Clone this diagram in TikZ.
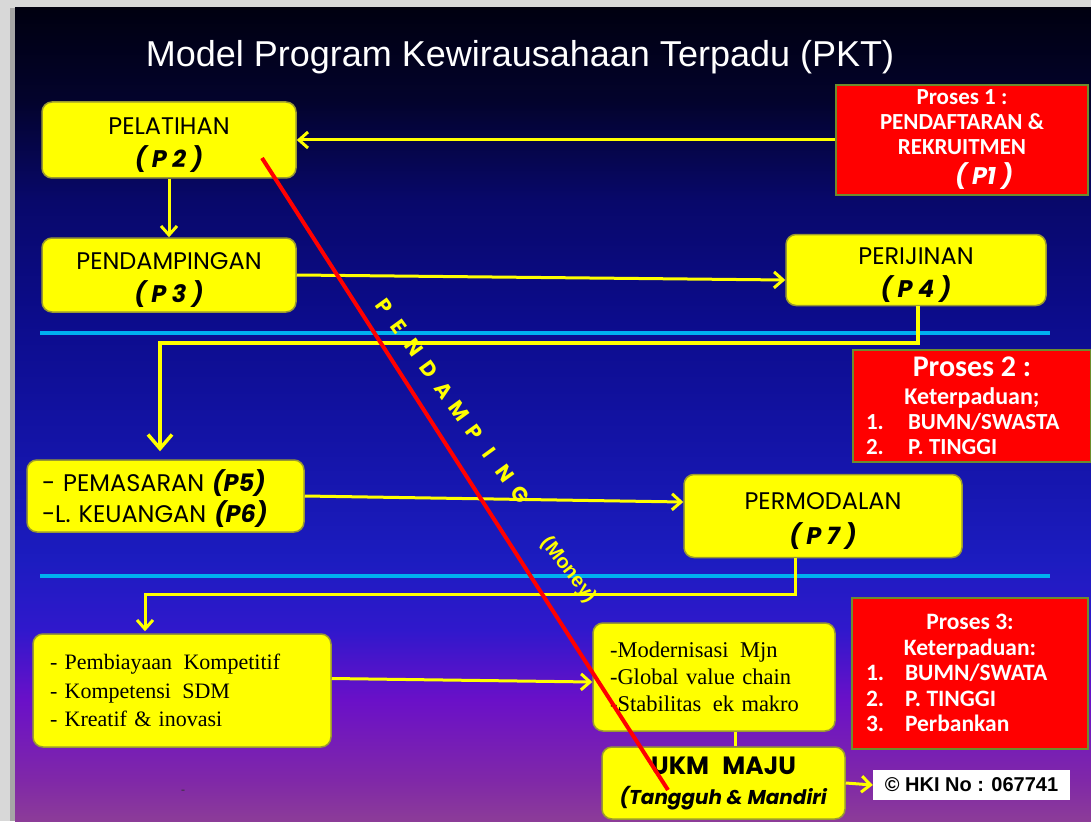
\documentclass[tikz,border=0pt]{standalone}
\usepackage{fontspec}
\setmainfont{Liberation Serif}
\newfontfamily\gothic{Poppins}
\newfontfamily\twcen{Carlito}
\newfontfamily\arial{Liberation Sans}
\usetikzlibrary{positioning, arrows.meta, calc}
\newcommand{\atas}{\rule{0pt}{27pt}}

\definecolor{kuning}{HTML}{FFFF00}
\definecolor{tepikuning}{HTML}{9A9A30}
\definecolor{merah}{HTML}{FF0000}
\definecolor{tepimerah}{HTML}{6E8C2C}
\definecolor{biru}{HTML}{00B0F0}
\definecolor{abu}{HTML}{D8D8D8}
\definecolor{bgA}{HTML}{000010}
\definecolor{bgB}{HTML}{03032C}
\definecolor{bgC}{HTML}{08086A}
\definecolor{bgD}{HTML}{0C0C8C}
\definecolor{bgE}{HTML}{1414A8}
\definecolor{bgF}{HTML}{1C1CC0}
\definecolor{bgG}{HTML}{3018CC}
\definecolor{bgH}{HTML}{6A10C8}
\definecolor{bgI}{HTML}{8028A8}
\definecolor{bgJ}{HTML}{8C3C98}
\pgfdeclareverticalshading{latar}{100bp}{color(0bp)=(bgJ); color(25bp)=(bgJ);
  color(27.52bp)=(bgI); color(32.44bp)=(bgH); color(36.75bp)=(bgG);
  color(41.05bp)=(bgF); color(47.82bp)=(bgE); color(55.81bp)=(bgD);
  color(63.19bp)=(bgC); color(69.34bp)=(bgB); color(75bp)=(bgA); color(100bp)=(bgA)}

\begin{document}
\begin{tikzpicture}[x=1pt, y=-1pt,
  kotak/.style={rounded corners=10pt, fill=kuning, draw=tepikuning, line width=1.5pt,
    align=center, text=black, inner sep=0pt, font=\gothic\fontsize{24}{33}\selectfont},
  proses/.style={fill=merah, draw=tepimerah, line width=2pt, text=white, align=center,
    inner sep=0pt, font=\twcen\bfseries\fontsize{23}{25}\selectfont},
  panah/.style={draw=kuning, line width=3pt, -{Straight Barb[length=9pt,width=16pt]}},
  garis/.style={draw=kuning, line width=3pt},
  pemisah/.style={draw=biru, line width=4pt}]

  % Latar belakang slide
  \fill[abu] (0,0) rectangle (1091,821);
  \fill[gray!70] (10,8) rectangle (15,821);
  \shade[shading=latar] (15,8) rectangle (1091,821);
  \useasboundingbox (0,0) rectangle (1091,821);

  % Garis pemisah biru
  \draw[pemisah] (40,333) -- (1050,333);
  \draw[pemisah] (40,576) -- (1050,576);

  % Judul
  \node[text=white, font=\arial\fontsize{36}{40}\selectfont] (judul) at (520,57)
    {Model Program Kewirausahaan Terpadu (PKT)};

  % Kotak kuning
  \node[kotak, minimum width=254pt, minimum height=76pt] (p2) at (169,140)
    {\atas PELATIHAN\\ \textbf{\textit{( P 2 )}}};
  \node[kotak, minimum width=254pt, minimum height=74pt] (p3) at (169,275)
    {\atas PENDAMPINGAN\\ \textbf{\textit{( P 3 )}}};
  \node[kotak, minimum width=260pt, minimum height=71pt] (p4) at (916,270)
    {\atas PERIJINAN\\ \textbf{\textit{( P 4 )}}};
  \node[kotak, align=left, text width=247pt, inner xsep=15pt, minimum height=72pt,
    font=\gothic\fontsize{24}{31}\selectfont] (p56) at (165.5,496)
    {\atas - PEMASARAN \textbf{\textit{(P5)}}\\-L. KEUANGAN \textbf{\textit{(P6)}}};
  \node[kotak, minimum width=278pt, minimum height=83pt, font=\gothic\fontsize{24}{35}\selectfont] (p7) at (823,516)
    {\atas PERMODALAN\\ \textbf{\textit{( P 7 )}}};
  \node[kotak, align=left, text width=264pt, inner xsep=17pt, minimum height=113pt,
    font=\rmfamily\fontsize{22}{28.5}\selectfont] (faktor) at (182,690.5)
    {- Pembiayaan\hspace{4pt} Kompetitif\\- Kompetensi\hspace{4pt} SDM\\- Kreatif \& inovasi};
  \node[kotak, align=left, text width=208pt, inner xsep=17pt, minimum height=108pt,
    font=\rmfamily\fontsize{22.5}{27}\selectfont] (modern) at (714,677)
    {-Modernisasi\hspace{4pt} Mjn\\-Global value chain\\-Stabilitas\hspace{4pt} ek makro};
  \node[kotak, minimum width=243pt, minimum height=72pt, font=\gothic\fontsize{20}{30}\selectfont] (ukm) at (723.5,783)
    {{\fontsize{25}{30}\selectfont\textbf{UKM\hspace{8pt} MAJU}}\\ \textbf{\textit{(Tangguh \& Mandiri}}};
  \node[fill=white, minimum width=197pt, minimum height=30pt, inner sep=0pt,
    font=\arial\bfseries\fontsize{20}{24}\selectfont] (hki) at (971.5,785) {© HKI No : 067741};

  % Kotak merah proses
  \node[proses, minimum width=252pt, minimum height=110pt] (pros1) at (962,140)
    {Proses 1 :\\ PENDAFTARAN \&\\ REKRUITMEN\\[5pt]
     \hspace*{44pt}{\gothic\itshape\fontsize{24}{25}\selectfont ( P1 )}};
  \node[proses, minimum width=238pt, minimum height=112pt] (pros2) at (972,406)
    {{\fontsize{30}{30}\selectfont Proses 2 :}\\[3pt] {\fontsize{24}{25}\selectfont Keterpaduan;}\\
     \makebox[212pt][l]{\makebox[42pt][l]{1.}BUMN/SWASTA}\\
     \makebox[212pt][l]{\makebox[42pt][l]{2.}P. TINGGI}};
  \node[proses, minimum width=236pt, minimum height=151pt,
    font=\twcen\bfseries\fontsize{23.5}{25.5}\selectfont] (pros3) at (970,673)
    {Proses 3:\\ Keterpaduan:\\
     \makebox[208pt][l]{\makebox[39pt][l]{1.}BUMN/SWATA}\\
     \makebox[208pt][l]{\makebox[39pt][l]{2.}P. TINGGI}\\
     \makebox[208pt][l]{\makebox[39pt][l]{3.}Perbankan}};

  % Panah penghubung
  \draw[panah] (pros1.west) -- (p2.east);
  \draw[panah] (p2.south) -- (p3.north);
  \draw[panah] (p3.east) -- ([yshift=-10pt]p4.west);
  \coordinate (b1) at (918,343);
  \coordinate (b2) at (160,343);
  \draw[panah, line width=3.5pt, -{Straight Barb[length=14pt,width=24pt]}, shorten >=8pt]
    ([xshift=2pt]p4.south) -- (b1) -- (b2) -- (b2 |- p56.north);
  \draw[panah] (p56.east) -- ([yshift=14pt]p7.west);
  \coordinate (b3) at (795,594);
  \coordinate (b4) at (145,594);
  \draw[panah, shorten >=2pt] ([xshift=-28pt]p7.south) -- (b3) -- (b4) -- (b4 |- faktor.north);
  \draw[panah] ([yshift=12pt]faktor.east) -- ([yshift=-5pt]modern.west);
  \draw[garis] ([xshift=21pt]modern.south) -- ([xshift=21pt]modern.south |- ukm.north);
  \draw[panah] (ukm.east) -- (hki.west);

  % Tulisan miring pendamping
  \foreach \huruf [count=\i] in {P,E,N,D,A,M,P,I,N,G} {
    \node[text=kuning, rotate=-54, inner sep=0pt, font=\gothic\bfseries\fontsize{21}{21}\selectfont]
      (h\i) at ({384+(\i-1)*15.1},{306+(\i-1)*21}) {\huruf};
  }
  \node[text=kuning, rotate=-52, inner sep=0pt, font=\arial\bfseries\fontsize{20}{20}\selectfont]
    (uang) at (568,570) {(Money)};
  \node[font=\rmfamily\fontsize{12}{12}\selectfont, text=black!80] (titik) at (183,792) {-};

  % Garis merah pendamping
  \coordinate (m1) at (262,158);
  \coordinate (m2) at (668,790);
  \draw[merah, line width=4pt] (m1) -- (m2);
\end{tikzpicture}
\end{document}
